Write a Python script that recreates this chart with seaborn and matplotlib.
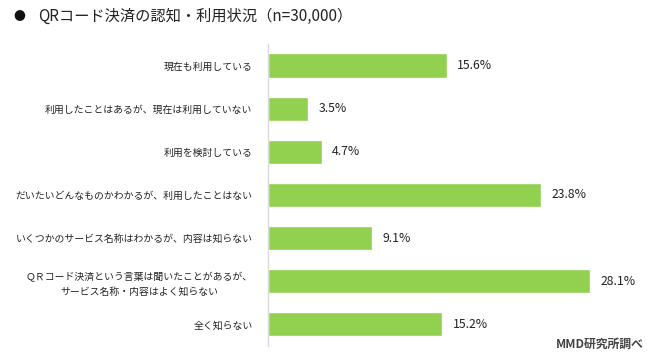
import matplotlib
matplotlib.use('Agg')
import matplotlib.pyplot as plt
import seaborn as sns
import pandas as pd

# QRコード決済の認知・利用状況
labels = ['現在も利用している',
          '利用したことはあるが、現在は利用していない',
          '利用を検討している',
          'だいたいどんなものかわかるが、利用したことはない',
          'いくつかのサービス名称はわかるが、内容は知らない',
          'ＱＲコード決済という言葉は聞いたことがあるが、\nサービス名称・内容はよく知らない',
          '全く知らない']
values = [15.6, 3.5, 4.7, 23.8, 9.1, 28.1, 15.2]

df = pd.DataFrame({'label': labels, 'value': values})

sns.set_style('white')
plt.rcParams['font.family'] = ['Noto Sans CJK JP', 'DejaVu Sans']

fig = plt.figure(figsize=(6.5, 3.57), dpi=100)
ax = fig.add_axes([0.412, 0.031, 0.57, 0.846])

sns.barplot(data=df, x='value', y='label', color='#92d050', width=0.56,
            saturation=1, ax=ax)

ax.set_xlim(0, 32.3)
ax.set_ylim(6.5, -0.5)
ax.set_xlabel('')
ax.set_ylabel('')
ax.set_xticks([])
for s in ['top', 'right', 'bottom']:
    ax.spines[s].set_visible(False)
ax.spines['left'].set_color('#d9d9d9')
ax.spines['left'].set_linewidth(1)

ax.tick_params(axis='y', length=0, pad=11)
for t in ax.get_yticklabels():
    t.set_fontsize(7.1)
    t.set_multialignment('center')
    t.set_linespacing(1.5)
    t.set_color('#222222')

for i, v in enumerate(values):
    ax.text(v + 0.9, i, f'{v}%', va='center', ha='left', fontsize=8.8, color='#222222')

fig.text(0.02, 0.955, '●', fontsize=8.5, va='center', ha='left', color='#111111')
fig.text(0.058, 0.955, 'QRコード決済の認知・利用状況（n=30,000）', fontsize=11,
         va='center', ha='left', color='#222222')
fig.text(0.99, 0.035, 'MMD研究所調べ', fontsize=8.5, fontweight='bold',
         va='center', ha='right', color='#444444')

fig.savefig('out.png', dpi=100)
